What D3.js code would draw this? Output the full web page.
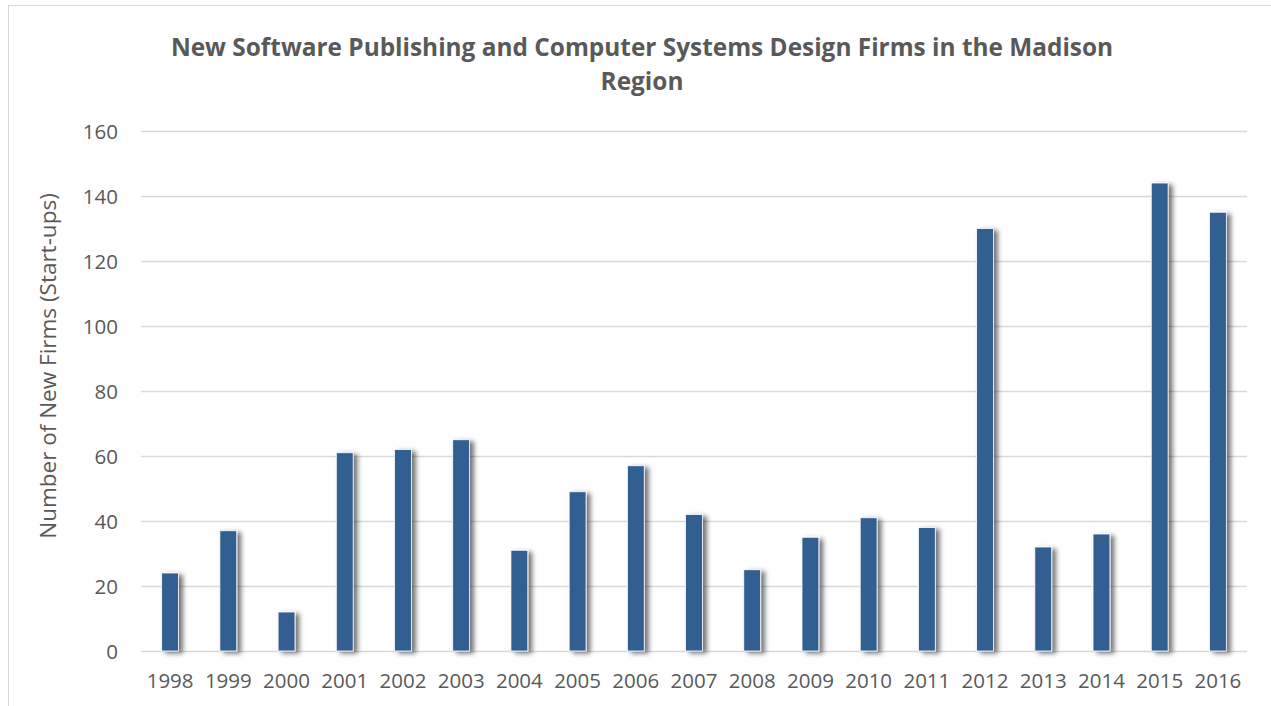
<!DOCTYPE html>
<html>
<head>
<meta charset="utf-8">
<script src="https://cdn.jsdelivr.net/npm/d3@7"></script>
<style>
  html, body { margin: 0; padding: 0; background: #fff; }
  svg { display: block; }
  text { font-family: "Open Sans", "Noto Sans", sans-serif; fill: #595959; }
</style>
</head>
<body>
<svg id="chart" width="1271" height="706"></svg>
<script>
// Start-up counts per year
const years = ["1998","1999","2000","2001","2002","2003","2004","2005","2006","2007",
               "2008","2009","2010","2011","2012","2013","2014","2015","2016"];
const newFirms = [24, 37, 12, 61, 62, 65, 31, 49, 57, 42, 25, 35, 41, 38, 130, 32, 36, 144, 135];
const yTicks = [0, 20, 40, 60, 80, 100, 120, 140, 160];
const titleLines = ["New Software Publishing and Computer Systems Design Firms in the Madison", "Region"];
const yLabel = "Number of New Firms (Start-ups)";

const data = years.map((y, i) => ({ year: y, value: newFirms[i] }));

const svg = d3.select("#chart");
const W = 1271, H = 706;
const plot = { left: 141, right: 1247, top: 131, bottom: 651 };

// Drop shadow for the columns
const defs = svg.append("defs");
const f = defs.append("filter").attr("id", "colShadow")
  .attr("x", "-50%").attr("y", "-10%").attr("width", "220%").attr("height", "130%");
f.append("feDropShadow").attr("dx", 4).attr("dy", 2).attr("stdDeviation", 2.8)
  .attr("flood-color", "#000").attr("flood-opacity", 0.55);

// Chart frame
svg.append("rect").attr("x", 8.5).attr("y", 5.5).attr("width", W + 20).attr("height", H + 20)
  .attr("fill", "#fff").attr("stroke", "#d9d9d9").attr("stroke-width", 1);

const x = d3.scaleBand().domain(years).range([plot.left, plot.right]).paddingInner(0.71).paddingOuter(0.355);
const y = d3.scaleLinear().domain([0, 160]).range([plot.bottom, plot.top]);

// Gridlines
svg.append("g").selectAll("line").data(yTicks).join("line")
  .attr("x1", plot.left).attr("x2", plot.right)
  .attr("y1", d => Math.round(y(d)) + 0.5).attr("y2", d => Math.round(y(d)) + 0.5)
  .attr("stroke", "#d9d9d9").attr("stroke-width", 1.3);

// Y axis labels
const yAxis = svg.append("g").attr("transform", `translate(${plot.left - 23},0)`)
  .call(d3.axisLeft(y).tickValues(yTicks).tickSize(0).tickPadding(0));
yAxis.select(".domain").remove();
yAxis.selectAll("text").attr("font-size", 20.5).attr("dy", "0.36em")
  .style("font-family", '"Open Sans", sans-serif').attr("fill", "#595959");

// X axis labels
const xAxis = svg.append("g").attr("transform", `translate(0,${plot.bottom + 22})`)
  .call(d3.axisBottom(x).tickSize(0).tickPadding(0));
xAxis.select(".domain").remove();
xAxis.selectAll("text").attr("font-size", 20.5).attr("dy", "0.71em")
  .style("font-family", '"Open Sans", sans-serif').attr("fill", "#595959");

// Columns
svg.append("g").selectAll("rect").data(data).join("rect")
  .attr("x", d => x(d.year))
  .attr("y", d => y(d.value))
  .attr("width", x.bandwidth())
  .attr("height", d => y(0) - y(d.value))
  .attr("fill", "#335e91")
  .attr("stroke", "#ffffff").attr("stroke-width", 0.8)
  .attr("filter", "url(#colShadow)");

// Title
svg.append("g").selectAll("text").data(titleLines).join("text")
  .attr("x", 642).attr("y", (d, i) => 56 + i * 34)
  .attr("text-anchor", "middle").attr("font-size", 24.4).attr("font-weight", "bold")
  .text(d => d);

// Y axis title
svg.append("text")
  .attr("transform", `translate(56,366) rotate(-90)`)
  .attr("text-anchor", "middle").attr("font-size", 22.5)
  .text(yLabel);
</script>
</body>
</html>
